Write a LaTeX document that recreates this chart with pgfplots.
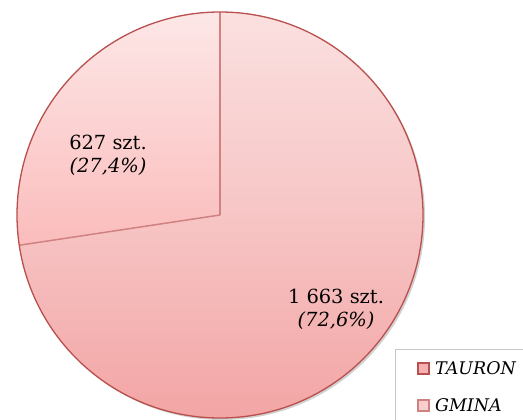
\documentclass[border=0pt]{standalone}
\usepackage{pgfplots}
\pgfplotsset{compat=1.18}
\usepackage{fontspec}
\setmainfont{DejaVu Serif}

% pie data (szt.)
\def\vTauron{627}
\def\vGmina{1663}

\definecolor{edgeRed}{HTML}{B9504E}
\definecolor{lineRed}{HTML}{D08281}

\begin{document}
\begin{tikzpicture}
\pgfmathsetmacro{\total}{\vTauron+\vGmina}
\pgfmathsetmacro{\angG}{360*(\vGmina/\total)}
\pgfmathsetmacro{\endG}{90-\angG}
\begin{axis}[
    scale only axis,
    width=523bp, height=420bp,
    xmin=0, xmax=523, ymin=-420, ymax=0,
    hide axis, clip=false,
]
% shadow under the pie
\fill[black, opacity=0.18] (axis cs:222,-217) circle[radius=203bp];
% GMINA
\fill[top color={rgb,255:red,251;green,224;blue,224}, bottom color={rgb,255:red,243;green,165;blue,165},
      middle color={rgb,255:red,247;green,197;blue,197}]
    (axis cs:220,-215) -- ++(90:203bp) arc[start angle=90, end angle=\endG, radius=203bp] -- cycle;
% TAURON
\fill[top color={rgb,255:red,253;green,231;blue,231}, bottom color={rgb,255:red,251;green,188;blue,188}]
    (axis cs:220,-215) -- ++(\endG:203bp) arc[start angle=\endG, end angle=-270, radius=203bp] -- cycle;
% slice edges
\draw[lineRed, line width=1.5bp] (axis cs:220,-215) -- ++(90:203bp);
\draw[lineRed, line width=1.5bp] (axis cs:220,-215) -- ++(\endG:203bp);
\draw[edgeRed, line width=1.3bp] (axis cs:220,-215) circle[radius=203bp];

% labels
\node[font=\fontsize{19.5}{23}\selectfont, align=center] at (axis cs:108,-155)
    {627 szt.\\\textit{(27,4\%)}};
\node[font=\fontsize{19.5}{23}\selectfont, align=center] at (axis cs:336,-309)
    {1 663 szt.\\\textit{(72,6\%)}};

% legend
\fill[white] (axis cs:395,-350) rectangle (axis cs:523,-420);
\draw[gray!45, line width=1bp] (axis cs:523,-350) -- (axis cs:395,-350) -- (axis cs:395,-420);
\draw[edgeRed, line width=1.3bp, fill={rgb,255:red,246;green,178;blue,178}]
    (axis cs:418,-363) rectangle (axis cs:429,-374);
\draw[lineRed, line width=1.3bp, fill={rgb,255:red,250;green,206;blue,206}]
    (axis cs:418,-400) rectangle (axis cs:429,-411);
\node[anchor=west, font=\fontsize{17.5}{20}\selectfont\itshape, inner sep=0pt] at (axis cs:435,-368.5) {TAURON};
\node[anchor=west, font=\fontsize{17.5}{20}\selectfont\itshape, inner sep=0pt] at (axis cs:435,-405.5) {GMINA};
\end{axis}
\pgfresetboundingbox
\path (current axis.south west) rectangle (current axis.north east);
\end{tikzpicture}
\end{document}
